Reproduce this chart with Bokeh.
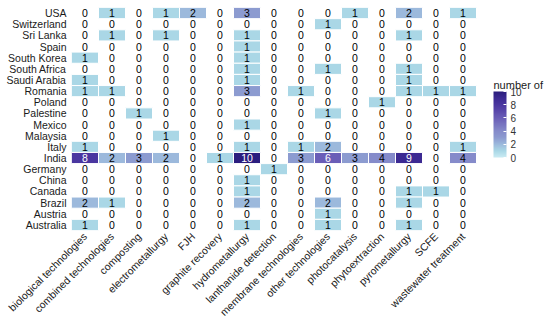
import math
from bokeh.plotting import figure
from bokeh.models import (ColumnDataSource, LinearColorMapper, ColorBar, FixedTicker,
                          FactorRange, Range1d)
from bokeh.transform import transform
from bokeh.embed import file_html
from bokeh.resources import INLINE

technologies = ["biological technologies", "combined technologies", "composting",
                "electrometallurgy", "FJH", "graphite recovery", "hydrometallurgy",
                "lanthanide detection", "membrane technologies", "other technologies",
                "photocatalysis", "phytoextraction", "pyrometallurgy", "SCFE",
                "wastewater treatment"]

countries = ["USA", "Switzerland", "Sri Lanka", "Spain", "South Korea", "South Africa",
             "Saudi Arabia", "Romania", "Poland", "Palestine", "Mexico", "Malaysia",
             "Italy", "India", "Germany", "China", "Canada", "Brazil", "Austria",
             "Australia"]

usa          = [0, 1, 0, 1, 2, 0, 3, 0, 0, 0, 1, 0, 2, 0, 1]
switzerland  = [0, 0, 0, 0, 0, 0, 0, 0, 0, 1, 0, 0, 0, 0, 0]
sri_lanka    = [0, 1, 0, 1, 0, 0, 1, 0, 0, 0, 0, 0, 1, 0, 0]
spain        = [0, 0, 0, 0, 0, 0, 1, 0, 0, 0, 0, 0, 0, 0, 0]
south_korea  = [1, 0, 0, 0, 0, 0, 1, 0, 0, 0, 0, 0, 0, 0, 0]
south_africa = [0, 0, 0, 0, 0, 0, 1, 0, 0, 1, 0, 0, 1, 0, 0]
saudi_arabia = [1, 0, 0, 0, 0, 0, 1, 0, 0, 0, 0, 0, 1, 0, 0]
romania      = [1, 1, 0, 0, 0, 0, 3, 0, 1, 0, 0, 0, 1, 1, 1]
poland       = [0, 0, 0, 0, 0, 0, 0, 0, 0, 0, 0, 1, 0, 0, 0]
palestine    = [0, 0, 1, 0, 0, 0, 0, 0, 0, 1, 0, 0, 0, 0, 0]
mexico       = [0, 0, 0, 0, 0, 0, 1, 0, 0, 0, 0, 0, 0, 0, 0]
malaysia     = [0, 0, 0, 1, 0, 0, 0, 0, 0, 0, 0, 0, 0, 0, 0]
italy        = [1, 0, 0, 0, 0, 0, 1, 0, 1, 2, 0, 0, 0, 0, 1]
india        = [8, 2, 3, 2, 0, 1, 10, 0, 3, 6, 3, 4, 9, 0, 4]
germany      = [0, 0, 0, 0, 0, 0, 0, 1, 0, 0, 0, 0, 0, 0, 0]
china        = [0, 0, 0, 0, 0, 0, 1, 0, 0, 0, 0, 0, 0, 0, 0]
canada       = [0, 0, 0, 0, 0, 0, 1, 0, 0, 0, 0, 0, 1, 1, 0]
brazil       = [2, 1, 0, 0, 0, 0, 2, 0, 0, 2, 0, 0, 1, 0, 0]
austria      = [0, 0, 0, 0, 0, 0, 0, 0, 0, 1, 0, 0, 0, 0, 0]
australia    = [1, 0, 0, 0, 0, 0, 1, 0, 0, 1, 0, 0, 1, 0, 0]

rows = [usa, switzerland, sri_lanka, spain, south_korea, south_africa, saudi_arabia,
        romania, poland, palestine, mexico, malaysia, italy, india, germany, china,
        canada, brazil, austria, australia]

legend_title = "number of"
legend_ticks = [0, 2, 4, 6, 8, 10]

# colour palette (piecewise interpolation between anchor colours)
anchors = [(0, "#c9ebf3"), (1, "#a9d7e6"), (2, "#9cb9dc"), (3, "#8c9ad0"),
           (4, "#858bca"), (6, "#6a5db7"), (8, "#4a36a0"), (9, "#3c2a92"), (10, "#2b1d7e")]

def hex2rgb(h):
    return tuple(int(h[i:i + 2], 16) for i in (1, 3, 5))

palette = []
N = 256
for k in range(N):
    v = 10 * k / (N - 1)
    for (a, ca), (b, cb) in zip(anchors[:-1], anchors[1:]):
        if a <= v <= b:
            t = (v - a) / (b - a)
            r1, g1, b1 = hex2rgb(ca)
            r2, g2, b2 = hex2rgb(cb)
            palette.append("#%02x%02x%02x" % (round(r1 + (r2 - r1) * t),
                                              round(g1 + (g2 - g1) * t),
                                              round(b1 + (b2 - b1) * t)))
            break

xs, ys, vals, txtcol = [], [], [], []
cx, cy, cv = [], [], []
for country, row in zip(countries, rows):
    for i, v in enumerate(row):
        xs.append(i)
        ys.append(country)
        vals.append(str(v))
        txtcol.append("white" if v >= 6 else "black")
        if v > 0:
            cx.append(i)
            cy.append(country)
            cv.append(v)

cells = ColumnDataSource(dict(x=cx, y=cy, v=cv))
labels = ColumnDataSource(dict(x=xs, y=ys, t=vals, c=txtcol))

mapper = LinearColorMapper(palette=palette, low=0, high=10)

W, H = 545, 325
left, top, bottom = 71, 7, 94
col_px = 27.0
frame_w = W - left
x_start = -0.5
x_end = x_start + frame_w / col_px

p = figure(x_range=Range1d(x_start, x_end),
           y_range=FactorRange(*list(reversed(countries))),
           width=W, height=H,
           min_border_left=left, min_border_top=top, min_border_right=0,
           min_border_bottom=bottom,
           output_backend="svg", toolbar_location=None, tools="")

p.rect(x="x", y="y", width=1, height=1, source=cells,
       fill_color=transform("v", mapper), line_color="white", line_width=1)
p.text(x="x", y="y", text="t", source=labels, text_color="c",
       text_align="center", text_baseline="middle", text_font_size="10.5px",
       text_font={"value": "Liberation Sans"})

p.xgrid.grid_line_color = None
p.ygrid.grid_line_color = None
p.outline_line_color = None
for ax in (p.xaxis, p.yaxis):
    ax.axis_line_color = None
    ax.major_tick_line_color = None
    ax.minor_tick_line_color = None
    ax.major_tick_out = 0
    ax.major_tick_in = 0
    ax.major_label_text_font = "Liberation Sans"
    ax.major_label_text_font_size = "10.5px"
    ax.major_label_text_color = "#1a1a1a"
p.xaxis.ticker = FixedTicker(ticks=list(range(len(technologies))))
p.xaxis.major_label_overrides = {i: t for i, t in enumerate(technologies)}
p.xaxis.major_label_orientation = math.pi / 4
p.xaxis.major_label_standoff = 4
p.yaxis.major_label_standoff = 5

# legend: colour bar plus its title (left edges aligned)
legend_left_px = 422
cb = ColorBar(color_mapper=mapper, ticker=FixedTicker(ticks=legend_ticks),
              width=13, height=66, title=None,
              major_label_text_font="Liberation Sans", major_label_text_font_size="10px",
              major_label_text_color="#333333", label_standoff=4,
              major_tick_line_color="white", major_tick_in=3, major_tick_out=0,
              bar_line_color=None, border_line_color=None, background_fill_color=None,
              padding=0, location=(legend_left_px, 73))
p.add_layout(cb, "center")

p.text(x=[x_start + legend_left_px / col_px], y=[("Romania", 0.55)], text=[legend_title],
       text_font={"value": "Liberation Sans"}, text_font_size="11px",
       text_color="#1a1a1a", text_align="left", text_baseline="middle")

open("out.html", "w").write(file_html(p, INLINE))
